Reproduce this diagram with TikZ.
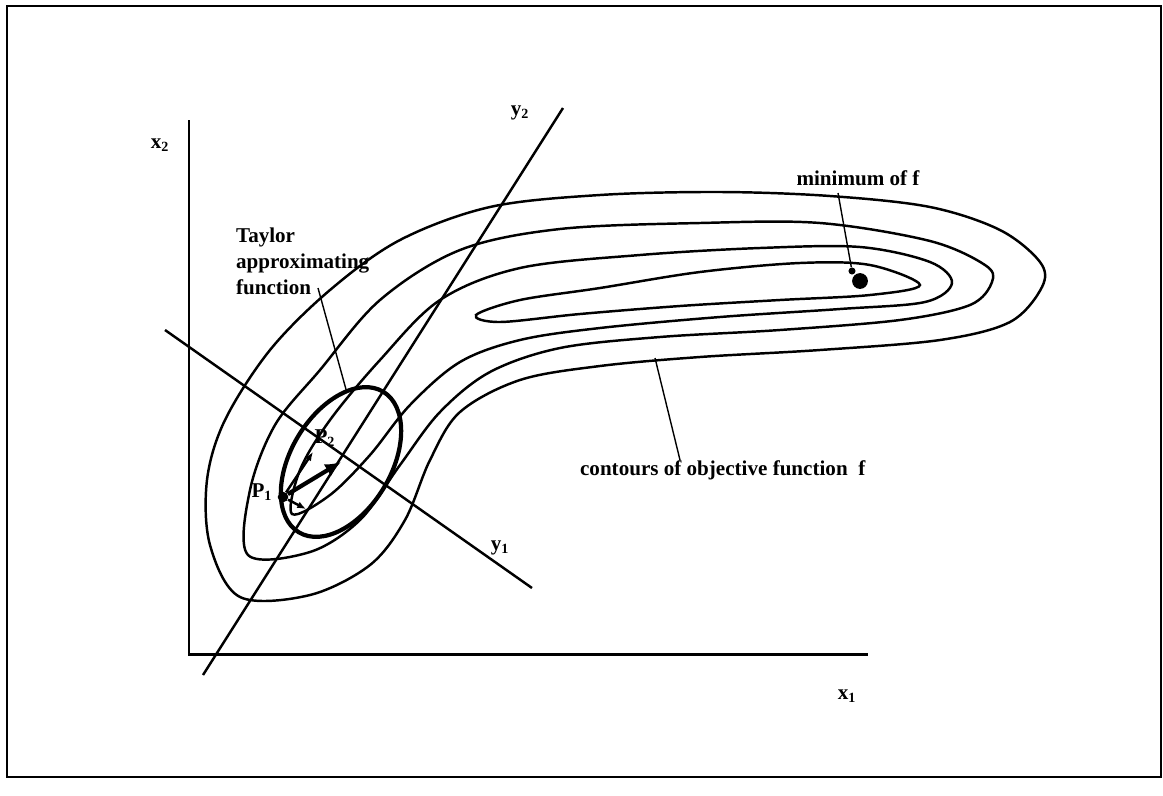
\documentclass[tikz,border=0pt]{standalone}
\usepackage{fontspec}
\setmainfont{Liberation Serif}
\usetikzlibrary{arrows.meta}

\begin{document}
\begin{tikzpicture}
    [x=0.02cm, y=-0.02cm,
    axis/.style={line width=1.7pt},
    contour/.style={line width=1.4pt},
    leader/.style={line width=0.8pt},
    vertex/.style={inner sep=0pt, circle, fill=black},
    lbl/.style={font=\bfseries\fontsize{12}{14.7}\selectfont, inner sep=1pt}]
        \useasboundingbox (0,0) rectangle (1163,795);
        \draw[line width=1.6pt] (7,6) rectangle (1161,777);

        %% axes x1, x2
        \coordinate (O) at (189,654);
        \coordinate (X2) at (189,120);
        \coordinate (X1) at (868,654);
        \draw[axis] (X2) -- (O) -- (X1);
        \node[lbl] (x2lab) at (160,145) {x\textsubscript{2}};
        \node[lbl] (x1lab) at (847,696) {x\textsubscript{1}};

        %% contours of f
        \draw[contour] plot[smooth cycle, tension=0.55] coordinates {(240,597) (210,545) (207,480) (225,420) (270,350) (330,290) (400,240) (490,207) (600,195) (720,192) (830,196) (930,207) (1000,230) (1040,262) (1042,287) (1010,322) (940,340) (820,350) (700,357) (600,366) (520,380) (460,412) (430,460) (405,520) (370,565) (310,595)};
        \draw[contour] plot[smooth cycle, tension=0.55] coordinates {(248,555) (250,490) (275,425) (320,370) (380,300) (460,250) (560,229) (700,223) (820,223) (930,241) (985,265) (992,282) (970,305) (900,320) (780,330) (660,337) (560,348) (490,372) (440,412) (400,465) (360,520) (310,552)};
        \draw[contour] plot[smooth cycle, tension=0.55] coordinates {(292,514) (300,470) (330,420) (380,360) (440,300) (520,268) (640,255) (760,248) (860,247) (930,262) (952,283) (925,302) (840,309) (720,317) (600,328) (520,340) (460,362) (410,405) (370,455) (330,495)};
        \draw[contour] plot[smooth cycle, tension=0.55] coordinates {(476,315) (520,300) (600,288) (700,272) (800,263) (870,265) (920,285) (870,295) (780,300) (680,306) (580,314) (500,322)};

        %% new axes y1, y2
        \coordinate (Y2a) at (203,675);
        \coordinate (Y2b) at (563,108);
        \coordinate (Y1a) at (165,330);
        \coordinate (Y1b) at (532,588);
        \draw[contour] (Y2a) -- (Y2b);
        \draw[contour] (Y1a) -- (Y1b);
        \node[lbl] (y2lab) at (520,113) {y\textsubscript{2}};
        \node[lbl] (y1lab) at (500,548) {y\textsubscript{1}};

        %% Taylor approximation
        \node[vertex, minimum size=6pt] (P1) at (283,497) {};
        \coordinate (P2) at (341,462);
        \draw[line width=2.4pt, rotate around={59:(P2)}] (P2) ellipse [x radius=1.64cm, y radius=1cm];
        \draw[line width=2.4pt, -{Latex[length=9pt, width=8pt]}] (P1) -- (P2);
        \draw[contour, -{Latex[length=5pt, width=4pt]}] (P1) -- (313,452);
        \draw[contour, -{Latex[length=5pt, width=4pt]}] (P1) -- (306,509);
        \node[lbl] (P1lab) at (262,492) {P\textsubscript{1}};
        \node[lbl] (P2lab) at (325,438) {P\textsubscript{2}};

        %% labels
        \node[lbl, align=left, anchor=north west] (taylor) at (234,226) {Taylor\\approximating\\function};
        \coordinate (taylorend) at (347,393);
        \draw[leader] (318,288) -- (taylorend);

        \node[vertex, minimum size=9pt] (min) at (860,281) {};
        \node[vertex, minimum size=4pt] (mintip) at (852,271) {};
        \node[lbl] (minlab) at (858,178) {minimum of f};
        \draw[leader] (838,193) -- (mintip);

        \node[lbl, anchor=west] (contlab) at (578,470) {contours of objective function\ \ f};
        \coordinate (contend) at (655,358);
        \draw[leader] (680,460) -- (contend);
\end{tikzpicture}
\end{document}
